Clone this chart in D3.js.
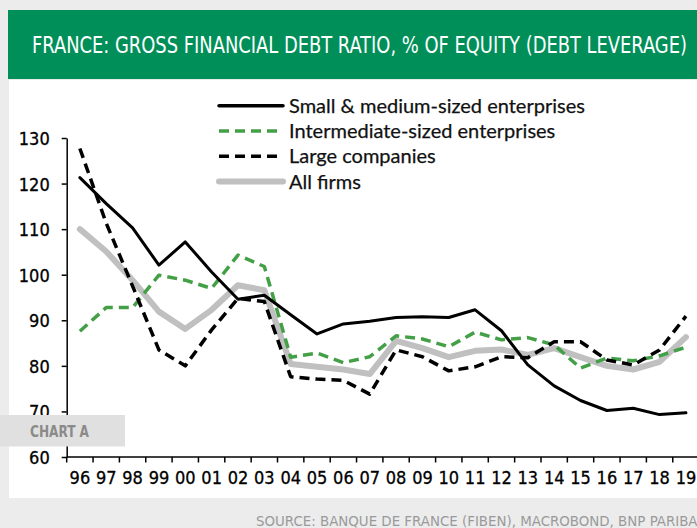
<!DOCTYPE html>
<html><head><meta charset="utf-8">
<script src="https://cdn.jsdelivr.net/npm/d3@7"></script>
<style>
html,body{margin:0;padding:0;background:#ececec;overflow:hidden;}
svg{display:block;}
</style></head>
<body>
<svg id="chart" width="697" height="528"></svg>
<script>
const years = ["96","97","98","99","00","01","02","03","04","05","06","07","08","09","10","11","12","13","14","15","16","17","18","19"];
const sme = [121.3,115.6,110.3,102.1,107.2,100.6,94.6,95.5,91.2,87.0,89.2,89.8,90.6,90.8,90.6,92.3,87.7,80.2,75.6,72.4,70.2,70.7,69.3,69.7];
const intermediate = [87.6,92.8,92.8,99.9,98.8,97.0,104.3,101.8,81.9,82.8,80.7,82.0,86.6,85.9,84.2,87.4,85.7,86.2,84.6,79.5,81.7,81.1,82.2,84.1];
const large = [127.7,111.3,97.5,83.5,80.0,87.9,94.8,94.1,77.6,77.1,76.8,73.8,83.5,82.0,78.9,79.8,82.0,81.8,85.3,85.3,81.3,80.2,83.5,90.9];
const allFirms = [110.0,105.1,98.8,91.9,88.1,92.3,97.7,96.6,80.4,79.8,79.2,78.2,85.5,83.9,81.9,83.3,83.6,82.4,83.9,81.9,80.0,79.2,80.9,86.3];
const yTicks = [60,70,80,90,100,110,120,130];
const seriesNames = ["Small & medium-sized enterprises","Intermediate-sized enterprises","Large companies","All firms"];
const titleText = "FRANCE: GROSS FINANCIAL DEBT RATIO, % OF EQUITY (DEBT LEVERAGE)";
const sourceText = "SOURCE: BANQUE DE FRANCE (FIBEN), MACROBOND, BNP PARIBAS";
const chartLabel = "CHART A";

const svg = d3.select("#chart");
const cond = "'DejaVu Sans Condensed','DejaVu Sans',sans-serif";

// panels
svg.append("rect").attr("x",0).attr("y",0).attr("width",697).attr("height",528).attr("fill","#ececec");
svg.append("rect").attr("x",8).attr("y",10).attr("width",689).attr("height",69).attr("fill","#008f59");
svg.append("rect").attr("x",9).attr("y",80).attr("width",688).attr("height",418).attr("fill","#ffffff");

svg.append("text").attr("x",0).attr("y",0).text(titleText)
  .attr("transform","translate(32,53.3) scale(1,1.2)")
  .attr("fill","#fff").attr("font-family",cond).attr("font-size",19)
  .attr("textLength",655).attr("lengthAdjust","spacingAndGlyphs");

svg.append("text").attr("x",256).attr("y",526).text(sourceText)
  .attr("fill","#9a9a9a").attr("font-family",cond).attr("font-size",14)
  .attr("textLength",450).attr("lengthAdjust","spacingAndGlyphs");

// scales
const x = d3.scaleBand().domain(years).range([66.7, 699.1]).paddingInner(0).paddingOuter(0);
const y = d3.scaleLinear().domain([60,130]).range([457,138]);
const cx = d => x(d) + x.bandwidth()/2;

const g = svg.append("g");

// y axis
const yAxis = g.append("g").attr("transform","translate(66.7,0)")
  .call(d3.axisLeft(y).tickValues(yTicks).tickSize(5).tickPadding(12).tickSizeOuter(0));
yAxis.select(".domain").attr("stroke","#000").attr("stroke-width",1.5);
yAxis.selectAll(".tick line").attr("stroke","#000").attr("stroke-width",1.5);
yAxis.selectAll(".tick text").attr("font-family",cond).attr("font-size",18).attr("fill","#000").attr("dy","0.36em")
  .attr("stroke","#000").attr("stroke-width",0.3);

// x axis labels
const xAxis = g.append("g").attr("transform","translate(0,457)")
  .call(d3.axisBottom(x).tickSize(0).tickPadding(14).tickSizeOuter(0));
xAxis.select(".domain").remove();
xAxis.selectAll(".tick text").attr("font-family",cond).attr("font-size",18).attr("fill","#000")
  .attr("stroke","#000").attr("stroke-width",0.3);
// x axis line and ticks at band boundaries
g.append("line").attr("x1",66.7).attr("x2",699.1).attr("y1",457).attr("y2",457).attr("stroke","#000").attr("stroke-width",1.5);
g.selectAll("line.xt").data(years).enter().append("line").attr("class","xt")
  .attr("x1",d=>x(d)).attr("x2",d=>x(d)).attr("y1",457).attr("y2",462.5)
  .attr("stroke","#000").attr("stroke-width",1.5);

// lines
const line = d3.line().x((d,i)=>cx(years[i])).y(d=>y(d));
const styles = [
  {data: allFirms, stroke:"#c0c0c0", width:6, dash:null},
  {data: intermediate, stroke:"#43a047", width:3.5, dash:"10,6"},
  {data: large, stroke:"#000", width:3.5, dash:"10,6"},
  {data: sme, stroke:"#000", width:3, dash:null}
];
styles.forEach(s=>{
  g.append("path").datum(s.data).attr("d",line).attr("fill","none")
   .attr("stroke",s.stroke).attr("stroke-width",s.width)
   .attr("stroke-dasharray",s.dash).attr("stroke-linejoin","round")
   .attr("stroke-linecap", s.dash ? "butt" : "round");
});

// legend
const legendStyles = [
  {stroke:"#000", width:3.5, dash:null},
  {stroke:"#43a047", width:3.5, dash:"10,6"},
  {stroke:"#000", width:3.5, dash:"10,6"},
  {stroke:"#c0c0c0", width:6, dash:null}
];
const lg = svg.append("g");
seriesNames.forEach((n,i)=>{
  const ry = 105.7 + i*25.3;
  lg.append("line").attr("x1",219).attr("x2",283).attr("y1",ry).attr("y2",ry)
    .attr("stroke",legendStyles[i].stroke).attr("stroke-width",legendStyles[i].width)
    .attr("stroke-dasharray",legendStyles[i].dash).attr("stroke-linecap", legendStyles[i].dash ? "butt":"round");
  lg.append("text").attr("x",289).attr("y",ry+7).text(n)
    .attr("font-family","Lato, 'Open Sans', sans-serif").attr("font-size",20).attr("fill","#111")
    .attr("stroke","#111").attr("stroke-width",0.25);
});

// chart label
svg.append("rect").attr("x",0).attr("y",415).attr("width",125).attr("height",31.5).attr("fill","#e0e0e0");
svg.append("text").attr("x",30).attr("y",436.5).text(chartLabel)
  .attr("font-family",cond).attr("font-size",16).attr("font-weight","bold").attr("fill","#8a8a8a")
  .attr("textLength",59).attr("lengthAdjust","spacingAndGlyphs");
</script>
</body></html>
